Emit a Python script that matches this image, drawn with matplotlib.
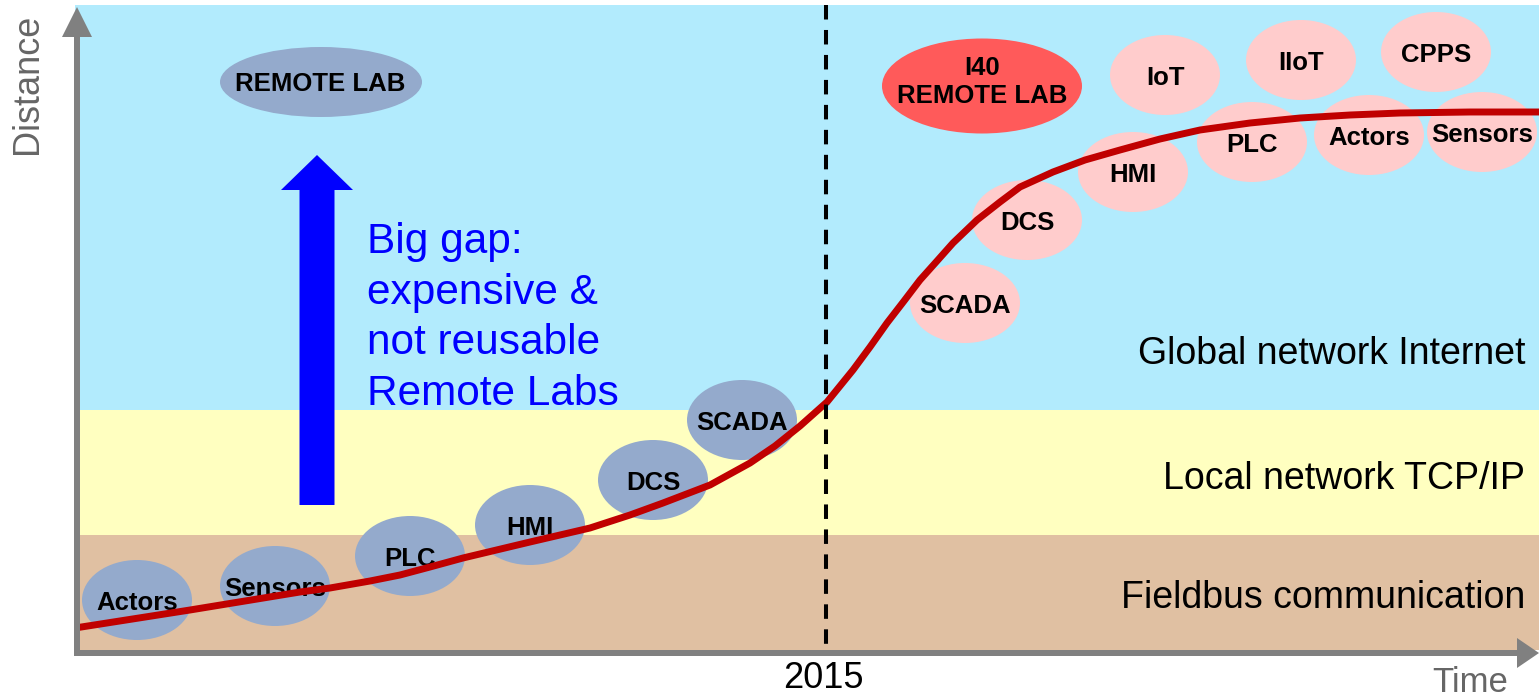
import matplotlib.pyplot as plt
from matplotlib.patches import Ellipse, Rectangle, FancyArrow, Polygon

plt.rcParams['font.family'] = ['Liberation Sans', 'DejaVu Sans']

# canvas is laid out in pixels (x right, y down)
W, H = 1539, 696
X0, X1 = 75, 1539          # plot area left / right
Y_TOP, Y_BOT = 5, 650      # plot area top / bottom

# network layers: (label, top, bottom, colour)
band_labels = ["Global network Internet", "Local network TCP/IP", "Fieldbus communication"]
band_top = [Y_TOP, 410, 535]
band_bot = [410, 535, Y_BOT]
band_colors = ["#b2ebfd", "#ffffc0", "#e0c0a2"]
band_label_y = [354, 479, 598]

# components before 2015 (grey-blue)
old_names = ["Actors", "Sensors", "PLC", "HMI", "DCS", "SCADA"]
old_x = [137, 275, 410, 530, 653, 742]
old_y = [600, 586, 556, 525, 480, 420]

# components after 2015 (pink)
new_names = ["SCADA", "DCS", "HMI", "PLC", "Actors", "Sensors", "IoT", "IIoT", "CPPS"]
new_x = [965, 1027, 1133, 1252, 1369, 1482, 1165, 1301, 1436]
new_y = [303, 220, 172, 142, 135, 132, 75, 60, 52]

# evolution curve
curve_x = [75, 190, 300, 330, 370, 400, 430, 463, 530, 590, 630, 663, 710, 750, 775, 800,
           827, 853, 870, 887, 904, 920, 937, 953, 977, 1000, 1020, 1053, 1085, 1120, 1160,
           1200, 1250, 1300, 1350, 1400, 1470, 1539]
curve_y = [628, 610, 592, 588, 581, 575, 567, 558, 542, 528, 515, 503, 485, 463, 446, 426,
           402, 370, 347, 323, 301, 280, 261, 243, 220, 202, 187, 172, 160, 150, 139,
           130, 123, 118, 115, 113, 112, 112]

year_x = 826
year_label = "2015"

fig = plt.figure(figsize=(W / 100, H / 100), dpi=100)
ax = fig.add_axes([0, 0, 1, 1])
ax.set_xlim(0, W)
ax.set_ylim(H, 0)
ax.axis('off')

# background bands
for lab, t, b, c, ly in zip(band_labels, band_top, band_bot, band_colors, band_label_y):
    ax.add_patch(Rectangle((X0, t), X1 - X0, b - t, facecolor=c, edgecolor='none', zorder=0))
    ax.text(1525, ly, lab, ha='right', va='center', fontsize=27, color='black', zorder=3)

# ellipses
ew, eh = 110, 80
for n, x, y in zip(old_names, old_x, old_y):
    ax.add_patch(Ellipse((x, y), ew, eh, facecolor='#94aacc', edgecolor='none', zorder=2))
    ax.text(x, y + 3, n, ha='center', va='center', fontsize=18.5, fontweight='bold', zorder=3)
for n, x, y in zip(new_names, new_x, new_y):
    ax.add_patch(Ellipse((x, y), ew, eh, facecolor='#ffcccc', edgecolor='none', zorder=2))
    ax.text(x, y + 3, n, ha='center', va='center', fontsize=18.5, fontweight='bold', zorder=3)

ax.add_patch(Ellipse((321, 82), 202, 70, facecolor='#94aacc', edgecolor='none', zorder=2))
ax.text(320, 84, "REMOTE LAB", ha='center', va='center', fontsize=18.5, fontweight='bold', zorder=3)
ax.add_patch(Ellipse((982, 86), 200, 95, facecolor='#ff5a5a', edgecolor='none', zorder=2))
ax.text(982, 82, "I40\nREMOTE LAB", ha='center', va='center', fontsize=18.5,
        fontweight='bold', linespacing=1.25, zorder=3)

# red curve
ax.plot(curve_x, curve_y, color='#c00000', lw=5, solid_capstyle='butt',
        solid_joinstyle='round', zorder=4)

# year marker
ax.plot([year_x, year_x], [Y_TOP, Y_BOT + 2], color='black', lw=2.9,
        dashes=(3.6, 2.6), zorder=5)
ax.text(year_x - 3, 678, year_label, ha='center', va='center', fontsize=26)

# big blue arrow + note
ax.add_patch(FancyArrow(317, 505, 0, -350, width=35, head_width=72, head_length=35,
                        length_includes_head=True, color='#0000ff', lw=0, zorder=3))
ax.text(367, 222, "Big gap:\nexpensive &\nnot reusable\nRemote Labs", ha='left', va='top',
        fontsize=30.5, color='#0000ff', linespacing=1.34, zorder=3)

# axes arrows
grey = '#808080'
ax.add_patch(Rectangle((74, 35), 6, Y_BOT + 6 - 35, facecolor=grey, edgecolor='none', zorder=6))
ax.add_patch(Polygon([(62, 37), (92, 37), (77, 7)], closed=True, facecolor=grey, edgecolor='none', zorder=6))
ax.add_patch(Rectangle((74, Y_BOT), 1518 - 74, 6, facecolor=grey, edgecolor='none', zorder=6))
ax.add_patch(Polygon([(1517, 638), (1517, 668), (1539, 653)], closed=True, facecolor=grey, edgecolor='none', zorder=6))

ax.text(1470, 682, "Time", ha='center', va='center', fontsize=25, color='#666666')
ax.text(28, 84, "Distance", ha='center', va='center', rotation=90, fontsize=26, color='#666666')

fig.savefig('out.png', dpi=100)
